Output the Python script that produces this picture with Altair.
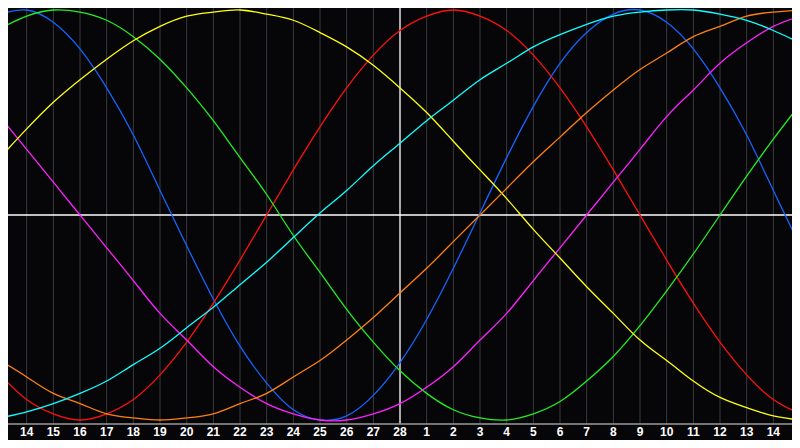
import altair as alt
import pandas as pd

# day index across the chart (0 = left edge, 30 = right edge)
days = list(range(31))

# values read at each day gridline (+1 = top, -1 = bottom)
blue = [0.98, 1.00, 0.94, 0.81, 0.62, 0.39, 0.12, -0.15, -0.41, -0.64, -0.82,
        -0.95, -1.00, -0.98, -0.88, -0.72, -0.51, -0.26, 0.01, 0.28, 0.53,
        0.74, 0.89, 0.98, 1.00, 0.94, 0.81, 0.62, 0.39, 0.12, -0.15]
red = [-0.78, -0.90, -0.97, -1.00, -0.97, -0.90, -0.78, -0.62, -0.43, -0.22, 0.00,
       0.22, 0.43, 0.62, 0.78, 0.90, 0.97, 1.00, 0.97, 0.90, 0.78,
       0.62, 0.43, 0.22, 0.00, -0.22, -0.43, -0.62, -0.78, -0.90, -0.97]
green = [0.91, 0.97, 1.00, 0.99, 0.95, 0.87, 0.76, 0.62, 0.46, 0.28, 0.10,
         -0.10, -0.28, -0.46, -0.62, -0.76, -0.87, -0.95, -0.99, -1.00, -0.97,
         -0.91, -0.81, -0.69, -0.54, -0.37, -0.19, 0.00, 0.19, 0.37, 0.54]
magenta = [0.48, 0.32, 0.16, 0.00, -0.16, -0.32, -0.48, -0.61, -0.74, -0.84, -0.92,
           -0.97, -1.00, -1.00, -0.97, -0.92, -0.84, -0.74, -0.61, -0.48, -0.32,
           -0.16, 0.00, 0.16, 0.32, 0.48, 0.61, 0.74, 0.84, 0.92, 0.97]
yellow = [0.28, 0.42, 0.55, 0.66, 0.76, 0.85, 0.92, 0.97, 0.99, 1.00, 0.98,
          0.95, 0.89, 0.82, 0.73, 0.62, 0.50, 0.36, 0.22, 0.08, -0.07,
          -0.21, -0.35, -0.48, -0.61, -0.71, -0.81, -0.89, -0.94, -0.98, -1.00]
orange = [-0.71, -0.79, -0.87, -0.92, -0.97, -0.99, -1.00, -0.99, -0.97, -0.92, -0.87,
          -0.79, -0.71, -0.61, -0.50, -0.38, -0.26, -0.13, 0.00, 0.13, 0.26,
          0.38, 0.50, 0.61, 0.71, 0.79, 0.87, 0.92, 0.97, 0.99, 1.00]
cyan = [-0.99, -0.96, -0.92, -0.87, -0.81, -0.73, -0.65, -0.55, -0.45, -0.34, -0.23,
        -0.11, 0.01, 0.12, 0.24, 0.35, 0.46, 0.56, 0.66, 0.74, 0.82,
        0.88, 0.93, 0.97, 0.99, 1.00, 1.00, 0.98, 0.95, 0.90, 0.84]

series_names = ["blue", "red", "green", "magenta", "yellow", "orange", "cyan"]
series_values = [blue, red, green, magenta, yellow, orange, cyan]
series_colors = ["#1464ff", "#ff1010", "#22ee22", "#ff22ff", "#ffff10", "#ff8010", "#10ffff"]

# bottom tick labels, at gridline days 1..29
tick_days = list(range(1, 30))
tick_labels = ["14", "15", "16", "17", "18", "19", "20", "21", "22", "23", "24", "25",
               "26", "27", "28", "1", "2", "3", "4", "5", "6", "7", "8", "9", "10",
               "11", "12", "13", "14"]
center_day = 15

rows = []
for name, vals in zip(series_names, series_values):
    for d, v in zip(days, vals):
        rows.append({"day": d, "value": v, "series": name})
df = pd.DataFrame(rows)

grid_df = pd.DataFrame({"day": [d for d in tick_days if d != center_day]})
center_df = pd.DataFrame({"day": [center_day]})
label_df = pd.DataFrame({"day": tick_days, "label": tick_labels})

W, H = 784, 416
xscale = alt.Scale(domain=[0.3, 29.7], nice=False, zero=False)
yscale = alt.Scale(domain=[-1.0195, 1.0098], nice=False, zero=False)

grid = alt.Chart(grid_df).mark_rule(color="#3a3a3e", strokeWidth=1).encode(
    x=alt.X("day:Q", scale=xscale, axis=None)
)
center_v = alt.Chart(center_df).mark_rule(color="#ffffff", strokeWidth=1.3).encode(
    x=alt.X("day:Q", scale=xscale, axis=None)
)
center_h = alt.Chart(center_df).mark_rule(color="#ffffff", strokeWidth=1.3).encode(
    y=alt.datum(0, scale=yscale, type="quantitative", axis=None)
)
bottom = alt.Chart(center_df).mark_rule(color="#9a9a9a", strokeWidth=1.5).encode(
    y=alt.value(H), x=alt.value(0), x2=alt.value(W)
)

lines = alt.Chart(df).mark_line(interpolate="natural", strokeWidth=1.3, clip=True).encode(
    x=alt.X("day:Q", scale=xscale, axis=None),
    y=alt.Y("value:Q", scale=yscale, axis=None),
    color=alt.Color("series:N", scale=alt.Scale(domain=series_names, range=series_colors), legend=None),
    detail="series:N",
)

labels = alt.Chart(label_df).mark_text(
    color="#ffffff", font="Liberation Sans", fontSize=12, fontWeight="bold",
    baseline="middle", align="center"
).encode(
    x=alt.X("day:Q", scale=xscale, axis=None),
    y=alt.value(H + 8),
    text="label:N",
)

chart = alt.layer(grid, center_v, center_h, lines, bottom, labels).properties(
    width=W, height=H,
    background="#060609",
    padding={"left": 0, "right": 0, "top": 0, "bottom": 16},
    autosize=alt.AutoSizeParams(type="none"),
).configure_view(stroke=None)

chart.save("out.html", embed_options={"renderer": "svg", "actions": False})
